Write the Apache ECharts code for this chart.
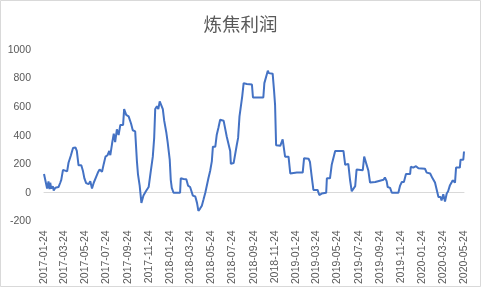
<!DOCTYPE html>
<html><head><meta charset="utf-8">
<script src="https://cdn.jsdelivr.net/npm/echarts@6/dist/echarts.min.js"></script>
<style>html,body{margin:0;padding:0;background:#fff}#c{width:481px;height:287px}</style>
</head><body><div id="c"></div>
<script>
const titleText = '炼焦利润';
const startDate = '2017-01-24';
const endDate = '2020-05-24';
const tickLabels = ['2017-01-24','2017-03-24','2017-05-24','2017-07-24','2017-09-24','2017-11-24',
  '2018-01-24','2018-03-24','2018-05-24','2018-07-24','2018-09-24','2018-11-24',
  '2019-01-24','2019-03-24','2019-05-24','2019-07-24','2019-09-24','2019-11-24',
  '2020-01-24','2020-03-24','2020-05-24'];
const yTicks = [-200, 0, 200, 400, 600, 800, 1000];
// days after startDate
const dayOffsets = [0,9,13,16,18,21,26,28,33,42,47,50,55,60,67,71,78,84,91,95,100,105,108,113,117,122,129,134,139,144,151,156,161,168,173,178,184,189,192,197,202,206,211,216,221,229,232,238,245,252,257,264,269,272,277,282,288,295,303,308,312,315,319,322,327,331,335,340,344,348,354,358,364,367,370,375,394,396,404,412,417,423,426,431,438,443,447,452,457,462,467,472,476,481,486,489,496,500,505,510,520,525,529,534,539,541,549,554,558,562,566,570,574,578,587,602,605,635,638,643,648,651,662,666,669,672,684,689,691,695,698,708,713,732,749,753,766,770,775,780,792,797,804,809,817,819,828,833,838,843,867,872,881,886,891,896,901,905,923,927,932,939,944,949,959,983,987,992,995,1002,1007,1026,1031,1036,1042,1048,1060,1062,1069,1077,1084,1103,1108,1118,1122,1125,1129,1132,1137,1142,1148,1151,1156,1161,1166,1170,1175,1180,1183,1190,1193,1204,1206,1214,1216];
const profit = [131,30,80,25,70,30,45,15,35,40,70,90,160,155,150,210,263,313,317,293,192,182,192,150,100,67,60,80,30,70,111,141,162,147,202,253,263,293,263,343,414,354,444,404,475,475,586,545,535,485,438,430,222,131,50,-71,-20,10,40,131,145,253,384,586,606,586,640,636,586,505,424,354,232,91,34,0,0,101,97,95,50,40,26,-20,-26,-71,-127,-111,-91,-46,0,10,101,152,222,323,323,404,455,511,505,499,394,384,293,202,208,222,333,384,535,525,677,768,762,758,667,667,768,762,855,838,834,717,616,333,329,337,374,364,253,253,135,141,141,242,238,216,115,20,20,-16,-6,0,0,101,101,196,196,293,293,196,202,91,10,20,46,162,158,253,257,156,71,60,75,91,107,81,40,34,0,0,50,75,75,131,131,182,176,186,172,168,141,135,141,101,111,71,71,-30,-30,-55,-10,-61,-5,10,50,71,87,71,176,176,232,232,289];

function toDay(s){ const p = s.split('-').map(Number); return Math.round(Date.UTC(p[0], p[1]-1, p[2]) / 86400000); }
const d0 = toDay(startDate);
const seriesData = dayOffsets.map((d,i)=>[d0 + d, profit[i]]);
const tickDays = tickLabels.map(toDay);
const labelMap = {}; tickDays.forEach((t,i)=>{ labelMap[t] = tickLabels[i]; });

const chart = echarts.init(document.getElementById('c'), null, {renderer:'canvas'});
chart.setOption({
  animation:false,
  backgroundColor:'#fff',
  title:{text:titleText, left:'center', top:10,
    textStyle:{fontFamily:'Noto Sans CJK SC', fontSize:18.5, fontWeight:'normal', color:'#595959'}},
  grid:{left:44, right:17, top:50, bottom:39},
  xAxis:{type:'value', min:toDay(startDate), max:toDay(endDate),
    axisLine:{show:true, onZero:true, lineStyle:{color:'#d9d9d9', width:1}},
    axisTick:{show:false}, splitLine:{show:false},
    axisLabel:{rotate:90, margin:9, hideOverlap:false, customValues:tickDays,
      showMinLabel:true, showMaxLabel:true,
      fontFamily:'Liberation Sans', fontSize:10.5, color:'#595959',
      formatter:(v)=> labelMap[v] || ''}},
  yAxis:{type:'value', min:yTicks[0], max:yTicks[yTicks.length-1], interval:200,
    axisLine:{show:false}, axisTick:{show:false}, splitLine:{show:false},
    axisLabel:{margin:13, fontFamily:'Liberation Sans', fontSize:10.5, color:'#595959',
      formatter:(v)=> String(v)}},
  series:[{type:'line', data:seriesData, showSymbol:false, symbol:'none',
    lineStyle:{color:'#4472C4', width:2}, itemStyle:{color:'#4472C4'}}],
  graphic:[{type:'rect', shape:{x:0.5,y:0.5,width:480,height:286}, style:{fill:null, stroke:'#d9d9d9', lineWidth:1}, silent:true}]
});
</script></body></html>
